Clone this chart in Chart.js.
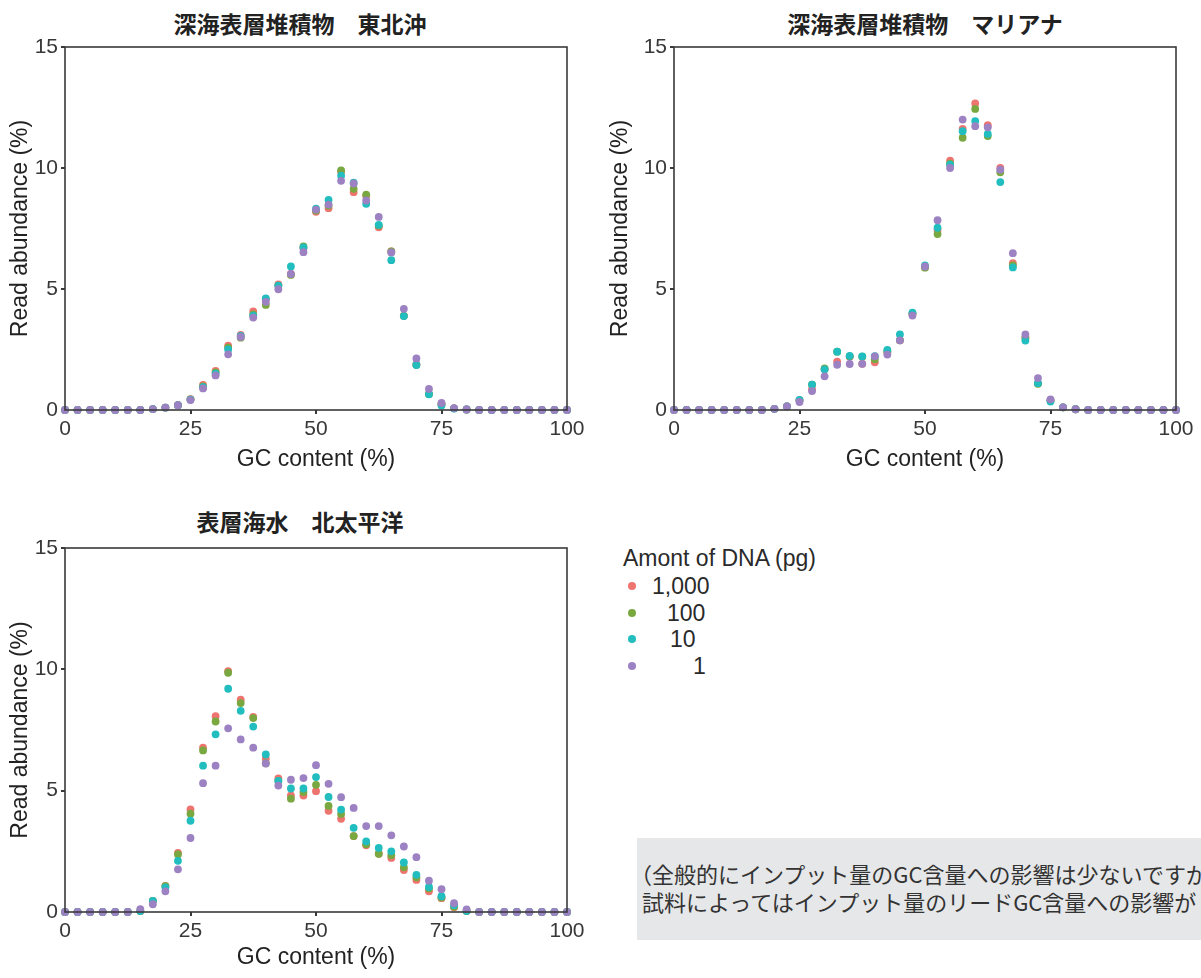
<!DOCTYPE html>
<html>
<head>
<meta charset="utf-8">
<script src="https://cdn.jsdelivr.net/npm/chart.js@4/dist/chart.umd.min.js"></script>
<style>
  body { margin: 0; background: #fff; width: 1201px; height: 978px; position: relative; overflow: hidden;
         font-family: "Liberation Sans", Arial, sans-serif; color: #2a2a2a; }
  canvas { position: absolute; }
  .ttl { position: absolute; font-family: "Noto Sans CJK JP", sans-serif; font-weight: bold; font-size: 23px;
         transform: translate(-50%, -50%); white-space: nowrap; color: #222; }
  #legend { position: absolute; left: 623px; top: 544px; font-size: 23px; }
  #legend .row { position: absolute; height: 24px; line-height: 24px; white-space: nowrap; }
  #legend .dot { position: absolute; width: 8px; height: 8px; border-radius: 50%; top: 8px; }
  #note { position: absolute; left: 637px; top: 838px; width: 564px; height: 102px; background: #e6e7e8;
          overflow: hidden; font-family: "Noto Sans CJK JP", sans-serif; font-size: 22px; color: #333; }
  #note div { position: absolute; white-space: nowrap; }
</style>
</head>
<body>

<div class="ttl" style="left:300px;top:23px">深海表層堆積物　東北沖</div>
<div class="ttl" style="left:925px;top:23px">深海表層堆積物　マリアナ</div>
<div class="ttl" style="left:300px;top:521px">表層海水　北太平洋</div>

<canvas id="c1" width="600" height="480" style="left:0;top:0"></canvas>
<canvas id="c2" width="601" height="480" style="left:600px;top:0"></canvas>
<canvas id="c3" width="600" height="478" style="left:0;top:500px"></canvas>

<div id="legend"></div>

<div id="note">
  <div style="top:19px;left:-7px">（全般的にインプット量のGC含量への影響は少ないですが、</div>
  <div style="top:47px;left:5px">試料によってはインプット量のリードGC含量への影響が</div>
</div>

<script>
// GC content (%) of each bin
const gc = [0, 2.5, 5, 7.5, 10, 12.5, 15, 17.5, 20, 22.5, 25, 27.5, 30, 32.5, 35, 37.5, 40,
  42.5, 45, 47.5, 50, 52.5, 55, 57.5, 60, 62.5, 65, 67.5, 70, 72.5, 75, 77.5, 80, 82.5, 85,
  87.5, 90, 92.5, 95, 97.5, 100];

const seriesLabels = ['1,000', '100', '10', '1'];
const colors = ['#ee746f', '#7aa840', '#22bdbf', '#9c82c2'];

const xTicks = [0, 25, 50, 75, 100];
const yTicks = [0, 5, 10, 15];

// 深海表層堆積物 東北沖
const tohoku1000 = [0,0,0,0,0,0,0,0.04,0.1,0.2,0.45,1.04,1.62,2.66,3.1,4.07,4.58,5.19,5.62,6.69,8.19,
  8.34,9.85,9.0,8.85,7.55,6.55,3.89,1.88,0.66,0.24,0.07,0.02,0,0,0,0,0,0,0,0];
const tohoku100 = [0,0,0,0,0,0,0,0.04,0.1,0.2,0.44,0.98,1.55,2.58,2.99,3.95,4.34,5.14,5.58,6.76,8.24,
  8.45,9.9,9.14,8.9,7.62,6.55,3.89,1.87,0.66,0.24,0.07,0.02,0,0,0,0,0,0,0,0];
const tohoku10 = [0,0,0,0,0,0,0,0.04,0.1,0.2,0.43,0.94,1.5,2.5,3.06,3.9,4.61,5.14,5.93,6.72,8.32,
  8.68,9.68,9.39,8.52,7.65,6.19,3.88,1.86,0.65,0.19,0.06,0.02,0,0,0,0,0,0,0,0];
const tohoku1 = [0,0,0,0,0,0,0,0.04,0.1,0.2,0.41,0.89,1.43,2.3,3.02,3.82,4.47,4.99,5.62,6.52,8.28,
  8.49,9.47,9.36,8.66,7.98,6.51,4.18,2.13,0.87,0.29,0.08,0.02,0,0,0,0,0,0,0,0];

// 深海表層堆積物 マリアナ
const mariana1000 = [0,0,0,0,0,0,0,0,0.05,0.15,0.4,0.86,1.68,2.0,2.2,1.91,1.97,2.4,2.88,3.98,5.91,
  7.44,10.3,11.62,12.67,11.77,10.0,6.07,2.99,1.1,0.4,0.11,0.03,0,0,0,0,0,0,0,0];
const mariana100 = [0,0,0,0,0,0,0,0,0.05,0.15,0.4,1.05,1.72,2.41,2.22,2.2,2.1,2.42,2.88,3.98,5.88,
  7.27,10.18,11.25,12.44,11.32,9.82,5.98,2.99,1.08,0.4,0.11,0.03,0,0,0,0,0,0,0,0];
const mariana10 = [0,0,0,0,0,0,0,0,0.05,0.15,0.42,1.05,1.68,2.41,2.24,2.22,2.23,2.48,3.12,4.02,5.98,
  7.53,10.14,11.52,11.94,11.41,9.42,5.89,2.87,1.11,0.35,0.11,0.03,0,0,0,0,0,0,0,0];
const mariana1 = [0,0,0,0,0,0,0,0,0.05,0.15,0.33,0.78,1.39,1.87,1.9,1.91,2.22,2.29,2.88,3.9,5.93,
  7.84,10.0,12.0,11.73,11.68,9.93,6.48,3.12,1.32,0.44,0.11,0.03,0,0,0,0,0,0,0,0];

// 表層海水 北太平洋
const pacific1000 = [0,0,0,0,0,0,0.04,0.46,1.08,2.44,4.23,6.77,8.07,9.92,8.75,8.04,6.32,5.51,4.8,4.8,4.98,
  4.17,3.84,3.13,2.75,2.4,2.23,1.73,1.32,0.85,0.57,0.2,0.04,0,0,0,0,0,0,0,0];
const pacific100 = [0,0,0,0,0,0,0.04,0.46,1.07,2.37,4.05,6.66,7.85,9.86,8.61,7.99,6.13,5.4,4.67,4.94,5.24,
  4.37,4.04,3.13,2.79,2.4,2.34,1.84,1.43,0.97,0.6,0.22,0.04,0,0,0,0,0,0,0,0];
const pacific10 = [0,0,0,0,0,0,0.04,0.46,1.01,2.11,3.76,6.03,7.32,9.2,8.29,7.64,6.49,5.4,5.09,5.09,5.56,
  4.74,4.22,3.47,2.91,2.64,2.5,2.04,1.53,1.03,0.65,0.28,0.04,0,0,0,0,0,0,0,0];
const pacific1 = [0,0,0,0,0,0,0.12,0.32,0.85,1.76,3.05,5.31,6.03,7.57,7.11,6.77,6.12,5.21,5.45,5.52,6.05,
  5.28,4.73,4.29,3.54,3.54,3.16,2.7,2.26,1.29,0.94,0.36,0.11,0,0,0,0,0,0,0,0];

const axisColor = '#3a3a3a';
const tickFont = { family: '"Liberation Sans", Arial, sans-serif', size: 21 };
const titleFont = { family: '"Liberation Sans", Arial, sans-serif', size: 23 };

// box round the plot area
const frame = {
  id: 'frame',
  afterDatasetsDraw(chart) {
    const a = chart.chartArea, ctx = chart.ctx;
    ctx.save();
    ctx.strokeStyle = axisColor;
    ctx.lineWidth = 1.6;
    ctx.strokeRect(a.left, a.top, a.right - a.left, a.bottom - a.top);
    ctx.restore();
  }
};

function createChart(id, series, box) {
  const ctx = document.getElementById(id);
  return new Chart(ctx, {
    type: 'scatter',
    data: {
      datasets: series.map((s, i) => ({
        label: seriesLabels[i],
        data: gc.map((x, j) => ({ x: x, y: s[j] })),
        backgroundColor: colors[i],
        borderColor: colors[i],
        borderWidth: 0,
        pointRadius: 3.9,
        order: 4 - i,
        clip: false
      }))
    },
    options: {
      responsive: false,
      animation: false,
      layout: { padding: { top: box.top, right: box.right, left: 0, bottom: 0 } },
      plugins: { legend: { display: false }, tooltip: { enabled: false } },
      scales: {
        x: {
          type: 'linear', min: 0, max: 100,
          afterBuildTicks: s => { s.ticks = xTicks.map(v => ({ value: v })); },
          afterFit: s => { s.height = box.xh; },
          grid: { drawOnChartArea: false, drawTicks: true, tickLength: 4, color: axisColor, lineWidth: 2 },
          border: { display: false },
          ticks: { color: '#383838', font: tickFont, padding: 3, maxRotation: 0 },
          title: { display: true, text: 'GC content (%)', color: '#222', font: titleFont, padding: { top: 0, bottom: 7 } }
        },
        y: {
          type: 'linear', min: 0, max: 15,
          afterBuildTicks: s => { s.ticks = yTicks.map(v => ({ value: v })); },
          afterFit: s => { s.width = box.yw; },
          grid: { drawOnChartArea: false, drawTicks: true, tickLength: 4, color: axisColor, lineWidth: 2 },
          border: { display: false },
          ticks: { color: '#383838', font: tickFont, padding: 3 },
          title: { display: true, text: 'Read abundance (%)', color: '#222', font: titleFont, padding: { top: 7, bottom: 0 } }
        }
      }
    },
    plugins: [frame]
  });
}

createChart('c1', [tohoku1000, tohoku100, tohoku10, tohoku1], { top: 47, right: 33, yw: 65, xh: 70 });
createChart('c2', [mariana1000, mariana100, mariana10, mariana1], { top: 47, right: 25, yw: 74, xh: 70 });
createChart('c3', [pacific1000, pacific100, pacific10, pacific1], { top: 48, right: 33, yw: 65, xh: 66 });

// legend
const legendLabelLeft = [29, 44, 47, 70];
const legend = document.getElementById('legend');
legend.innerHTML = '<div class="row" style="left:0;top:2px">Amont of DNA (pg)</div>';
seriesLabels.forEach((name, i) => {
  const top = 30 + i * 26.7;
  legend.innerHTML += '<div class="dot" style="left:5px;top:' + (top + 8) + 'px;background:' + colors[i] + '"></div>' +
    '<div class="row" style="left:' + legendLabelLeft[i] + 'px;top:' + top + 'px">' + name + '</div>';
});
</script>
</body>
</html>
